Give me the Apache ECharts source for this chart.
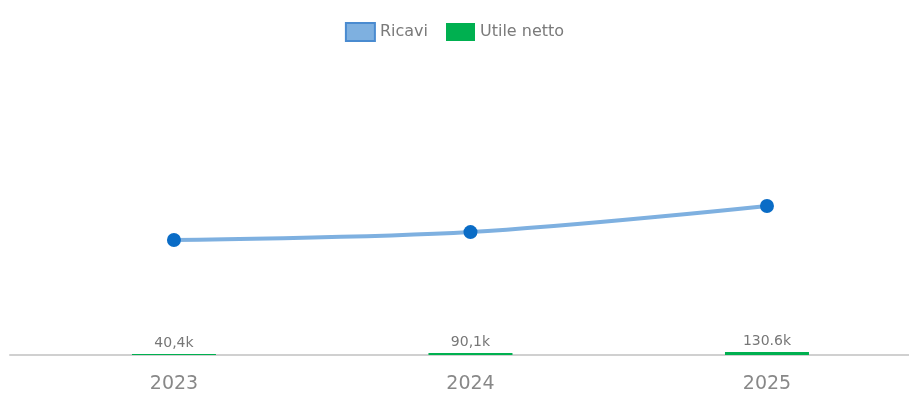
<!DOCTYPE html>
<html><head><meta charset="utf-8">
<script src="https://cdn.jsdelivr.net/npm/echarts@6/dist/echarts.min.js"></script>
<style>html,body{margin:0;padding:0;background:#fff}#c{width:909px;height:399px}</style>
</head><body><div id="c"></div>
<script>
const categories = ['2023', '2024', '2025'];
const ricavi = [1170, 1250, 1515];      // k€ (estimated, axis hidden)
const utileNetto = [40.4, 90.1, 130.6]; // k€
const utileLabels = ['40,4k', '90,1k', '130.6k'];

const idx = categories.map((c, i) => i);
const chart = echarts.init(document.getElementById('c'));
chart.setOption({
  animation: false,
  textStyle: { fontFamily: 'DejaVu Sans, sans-serif' },
  legend: {
    top: 17, left: 'center', itemGap: 18, itemWidth: 29, itemHeight: 18,
    textStyle: { color: '#7a7a7a', fontSize: 16 },
    data: [
      { name: 'Ricavi', icon: 'rect', itemStyle: { color: '#7eb0e0', borderColor: '#4a8bd0', borderWidth: 2 } },
      { name: 'Utile netto', icon: 'rect', itemStyle: { color: '#00b050' } }
    ]
  },
  grid: { left: 10, right: 0, top: 60, bottom: 44 },
  xAxis: {
    type: 'value', min: -0.553, max: 2.479,
    splitLine: { show: false },
    axisLine: { show: true, onZero: false, lineStyle: { color: '#d0d0d0', width: 2 } },
    axisTick: { show: false },
    axisLabel: { color: '#888', fontSize: 19, margin: 20,
      customValues: idx, formatter: v => categories[Math.round(v)] ?? '' }
  },
  yAxis: [
    { type: 'value', min: 0, max: 3000, show: false },
    { type: 'value', min: 0, max: 13000, show: false }
  ],
  series: [
    { name: 'Utile netto', type: 'bar', yAxisIndex: 1,
      data: utileNetto.map((v, i) => [i, v]), barWidth: 84,
      itemStyle: { color: '#00b050' },
      label: { show: true, position: 'top', distance: 4, color: '#777', fontSize: 14,
        formatter: p => utileLabels[p.dataIndex] } },
    { name: 'Ricavi', type: 'line', yAxisIndex: 0,
      data: ricavi.map((v, i) => [i, v]), smooth: 0.35,
      lineStyle: { color: '#7eb0e0', width: 4 },
      itemStyle: { color: '#0a6cc6' },
      symbol: 'circle', symbolSize: 14, z: 5 }
  ]
});
</script></body></html>
